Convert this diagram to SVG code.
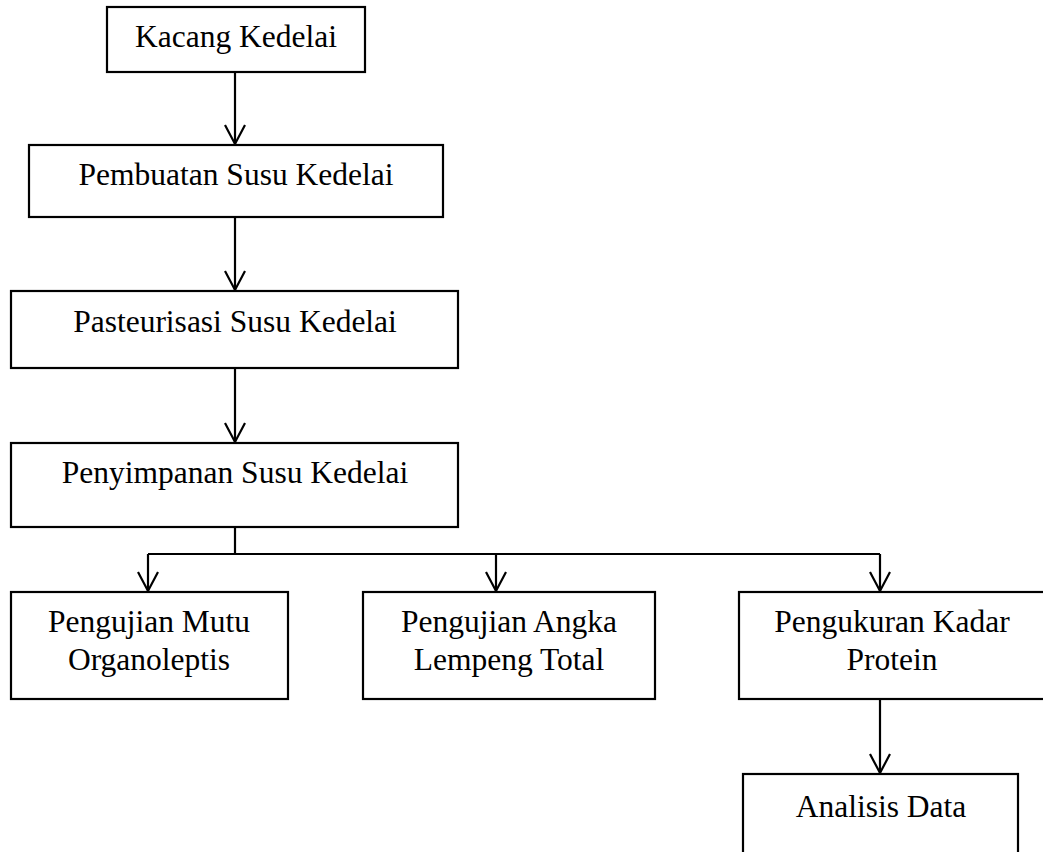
<svg xmlns="http://www.w3.org/2000/svg" width="1043" height="852" viewBox="0 0 1043 852">
<style>
rect.n{fill:#fff;stroke:#000;stroke-width:2.2}
text{font-family:"Liberation Serif","Times New Roman",serif;font-size:31.5px;fill:#000;text-anchor:middle}
.c path{fill:none;stroke:#000;stroke-width:2.2}
</style>
<defs>
<marker id="a" viewBox="0 0 24 24" refX="21" refY="12" markerWidth="24" markerHeight="24" markerUnits="userSpaceOnUse" orient="auto">
<path d="M2,2 L21,12 L2,22" fill="none" stroke="#000" stroke-width="2.2"/>
</marker>
</defs>
<rect width="1043" height="852" fill="#fff"/>
<g class="c" id="connectors">
<path d="M235,72 V144" marker-end="url(#a)"/>
<path d="M235,217 V290" marker-end="url(#a)"/>
<path d="M235,368 V442" marker-end="url(#a)"/>
<path d="M235,527 V554 M148,554 H880"/>
<path d="M148,554 V591" marker-end="url(#a)"/>
<path d="M496,554 V591" marker-end="url(#a)"/>
<path d="M880,554 V591" marker-end="url(#a)"/>
<path d="M880,699 V773" marker-end="url(#a)"/>
</g>
<g id="n1"><rect class="n" x="107" y="7" width="258" height="65"/><text x="236" y="47">Kacang Kedelai</text></g>
<g id="n2"><rect class="n" x="29" y="145" width="414" height="72"/><text x="236" y="185">Pembuatan Susu Kedelai</text></g>
<g id="n3"><rect class="n" x="11" y="291" width="447" height="77"/><text x="235" y="332">Pasteurisasi Susu Kedelai</text></g>
<g id="n4"><rect class="n" x="11" y="443" width="447" height="84"/><text x="235" y="483">Penyimpanan Susu Kedelai</text></g>
<g id="n5"><rect class="n" x="11" y="592" width="277" height="107"/><text x="149" y="632">Pengujian Mutu</text><text x="149" y="670">Organoleptis</text></g>
<g id="n6"><rect class="n" x="363" y="592" width="292" height="107"/><text x="509" y="632">Pengujian Angka</text><text x="509" y="670">Lempeng Total</text></g>
<g id="n7"><rect class="n" x="739" y="592" width="310" height="107"/><text x="892" y="632">Pengukuran Kadar</text><text x="892" y="670">Protein</text></g>
<g id="n8"><rect class="n" x="743" y="774" width="275" height="90"/><text x="881" y="817">Analisis Data</text></g>
</svg>
